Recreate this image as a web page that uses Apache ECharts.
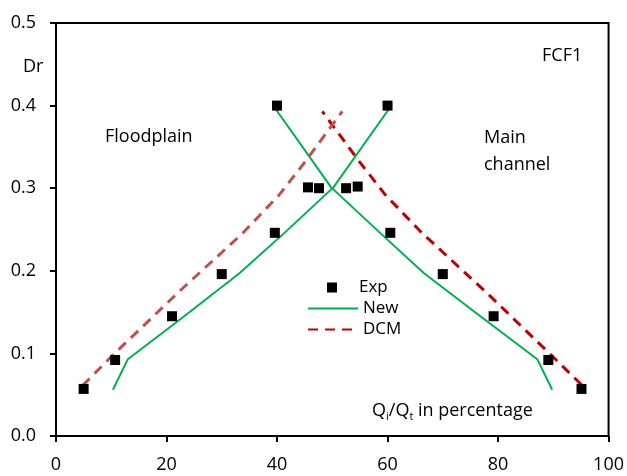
<!DOCTYPE html>
<html>
<head>
<meta charset="utf-8">
<script src="https://cdn.jsdelivr.net/npm/echarts@6/dist/echarts.min.js"></script>
<style>
  html, body { margin: 0; padding: 0; background: #fff; }
  #main { width: 627px; height: 476px; }
</style>
</head>
<body>
<div id="main"></div>
<script>
    "use strict";
    /*---- data: [Qi/Qt %, Dr] ----*/
    var xTicks = [0, 20, 40, 60, 80, 100];
    var yTicks = [0, 0.1, 0.2, 0.3, 0.4, 0.5];

    var expData = [
        [5, 0.057], [10.7, 0.092], [21, 0.145], [30, 0.196], [39.6, 0.246], [40, 0.4],
        [45.6, 0.301], [47.6, 0.3], [52.5, 0.3], [54.6, 0.302],
        [60, 0.4], [60.5, 0.246], [70, 0.196], [79.2, 0.145], [89.1, 0.092], [95.1, 0.057]
    ];
    var newFloodplain = [
        [10.3, 0.056], [13, 0.093], [23.2, 0.145], [33.2, 0.197], [41.2, 0.245], [50.2, 0.301], [60.8, 0.401]
    ];
    var newMain = [
        [89.8, 0.056], [87.1, 0.093], [76.8, 0.145], [66.6, 0.197], [58.8, 0.245], [49.8, 0.301], [39.2, 0.401]
    ];
    var dcmFloodplain = [
        [4.8, 0.061], [10.3, 0.098], [22.3, 0.175], [33.7, 0.245], [40.4, 0.292], [45.2, 0.333], [51.8, 0.393]
    ];
    var dcmMain = [
        [95.1, 0.062], [89.6, 0.098], [77.7, 0.175], [66.2, 0.246], [59.6, 0.292], [54.8, 0.333], [48.2, 0.393]
    ];

    var font = "'Open Sans', 'Noto Sans', sans-serif";
    var green = '#00b050';

    var chart = echarts.init(document.getElementById('main'));
    chart.setOption({
        animation: false,
        backgroundColor: '#fff',
        textStyle: {fontFamily: font},
        grid: {
            left: 56, right: 16, top: 23, bottom: 40,
            show: true, borderColor: '#000', borderWidth: 2, containLabel: false
        },
        xAxis: {
            type: 'value', min: 0, max: 100, interval: 20,
            axisLine: {lineStyle: {color: '#000', width: 2}},
            axisTick: {length: 6, lineStyle: {color: '#000', width: 2}},
            axisLabel: {color: '#000', fontSize: 18, margin: 20, fontFamily: font,
                formatter: function (v) { return xTicks.indexOf(v) >= 0 ? String(v) : ''; }},
            splitLine: {show: false}
        },
        yAxis: {
            type: 'value', min: 0, max: 0.5, interval: 0.1,
            axisLine: {lineStyle: {color: '#000', width: 2}},
            axisTick: {length: 6, lineStyle: {color: '#000', width: 2}},
            axisLabel: {color: '#000', fontSize: 18, margin: 20, fontFamily: font,
                formatter: function (v) { return v.toFixed(1); }},
            splitLine: {show: false}
        },
        legend: [
            {
                data: ['Exp'],
                left: 322, top: 274,
                itemWidth: 10, itemHeight: 10,
                itemStyle: {opacity: 1},
                textStyle: {fontSize: 17, color: '#000', fontFamily: font, padding: [0, 0, 0, 17]}
            },
            {
                data: ['New', 'DCM'],
                orient: 'vertical',
                left: 302, top: 295, itemGap: 4,
                itemWidth: 50, itemHeight: 14,
                itemStyle: {opacity: 0},
                textStyle: {fontSize: 17, color: '#000', fontFamily: font}
            }
        ],
        series: [
            {
                name: 'Exp', type: 'scatter', data: expData,
                symbol: 'rect', symbolSize: 10,
                itemStyle: {color: '#000', opacity: 1}, z: 5
            },
            {
                name: 'New', type: 'line', data: newFloodplain,
                symbol: 'none', lineStyle: {color: green, width: 2}, itemStyle: {color: green}
            },
            {
                name: 'New', type: 'line', data: newMain,
                symbol: 'none', lineStyle: {color: green, width: 2}, itemStyle: {color: green}
            },
            {
                name: 'DCM', type: 'line', data: dcmMain,
                symbol: 'none', lineStyle: {color: '#c00000', width: 3, type: [10, 7]}, itemStyle: {color: '#c00000'}
            },
            {
                name: 'DCM', type: 'line', data: dcmFloodplain,
                symbol: 'none', lineStyle: {color: '#c0504d', width: 3, type: [10, 7]}, itemStyle: {color: '#c0504d'}
            }
        ],
        graphic: [
            {type: 'text', x: 23, y: 67, style: {text: 'Dr', fontSize: 18, fontFamily: font, fill: '#000', verticalAlign: 'middle'}},
            {type: 'text', x: 542, y: 56, style: {text: 'FCF1', fontSize: 18, fontFamily: font, fill: '#000', verticalAlign: 'middle'}},
            {type: 'text', x: 105, y: 137, style: {text: 'Floodplain', fontSize: 18, fontFamily: font, fill: '#000', verticalAlign: 'middle'}},
            {type: 'text', x: 484, y: 138, style: {text: 'Main', fontSize: 18, fontFamily: font, fill: '#000', verticalAlign: 'middle'}},
            {type: 'text', x: 484, y: 165, style: {text: 'channel', fontSize: 18, fontFamily: font, fill: '#000', verticalAlign: 'middle'}},
            {type: 'text', x: 372, y: 400, style: {
                text: '{a|Q}{s|i}{a|/Q}{s|t}{a| in percentage}',
                fontFamily: font, fill: '#000',
                rich: {
                    a: {fontSize: 18, fontFamily: font, fill: '#000', lineHeight: 22},
                    s: {fontSize: 11, fontFamily: font, fill: '#000', lineHeight: 22, verticalAlign: 'bottom', padding: [8, 0, 0, 0]}
                }
            }}
        ]
    });
</script>
</body>
</html>
